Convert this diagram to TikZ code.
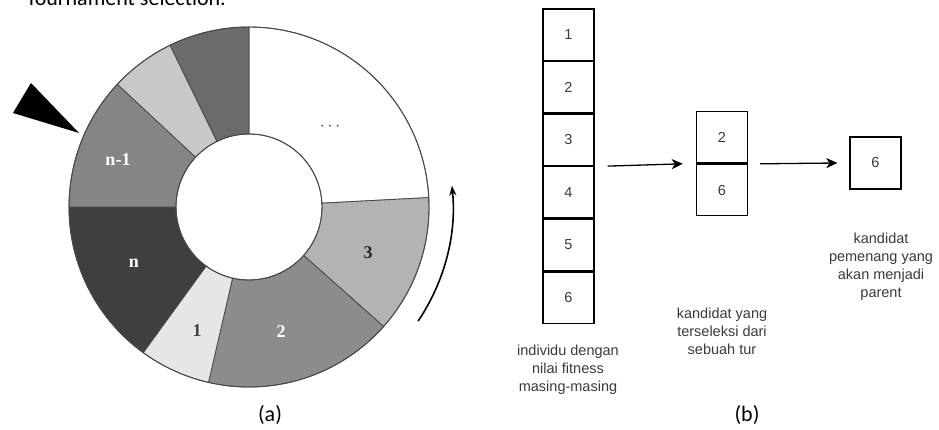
\documentclass[tikz,border=0pt]{standalone}
\usepackage{fontspec}
\setmainfont{Liberation Sans}
\newfontfamily\calib{Carlito}
\newfontfamily\serifring{Liberation Serif}
\usetikzlibrary{arrows.meta,positioning}
\definecolor{segA}{HTML}{FFFFFF}
\definecolor{segB}{HTML}{B3B3B3}
\definecolor{segC}{HTML}{8C8C8C}
\definecolor{segD}{HTML}{E6E6E6}
\definecolor{segE}{HTML}{3F3F3F}
\definecolor{segF}{HTML}{858585}
\definecolor{segG}{HTML}{C8C8C8}
\definecolor{segH}{HTML}{6B6B6B}
\definecolor{ringline}{HTML}{474747}
\definecolor{txtgray}{HTML}{3A3A3A}
\tikzset{
  cell/.style={draw=black, line width=1.3pt, minimum width=51pt, minimum height=51.3pt, inner sep=0pt, text=txtgray, font=\fontsize{14.5}{17}\selectfont},
  flow/.style={-{Stealth[length=11pt,width=10pt,inset=3pt]}, line width=1.3pt},
  caption/.style={align=center, font=\fontsize{14.5}{18}\selectfont, text=txtgray, inner sep=0pt},
  sublabel/.style={font=\calib\fontsize{22}{24}\selectfont, inner sep=0pt},
  ringlabel/.style={font=\serifring\fontsize{18}{20}\selectfont\bfseries, inner sep=0pt},
}
\begin{document}
\begin{tikzpicture}[x=1pt,y=-1pt]
\useasboundingbox (0,0) rectangle (939,430);
% clipped heading (only the bottoms of its letters are visible)
\begin{scope}
  \clip (0,0) rectangle (939,7);
  \node[anchor=base east, font=\calib\fontsize{22}{24}\selectfont, inner sep=0pt] (head) at (226,6) {Tournament selection.};
\end{scope}
% ---------- (a) roulette ring ----------
\begin{scope}[shift={(249,207)}, x=1pt, y=1pt]
  \def\R{180}\def\r{73}
  \foreach \a/\b/\c in {3/90/segA, -41.6/3/segB, -103/-41.6/segC, -126/-103/segD, 180/234/segE, 137/180/segF, 116/137/segG, 90/116/segH}{
    \filldraw[fill=\c, draw=ringline, line width=0.8pt]
      (\a:\R) arc[start angle=\a, end angle=\b, radius=\R] -- (\b:\r)
      arc[start angle=\b, end angle=\a, radius=\r] -- cycle;
  }
  \draw[ringline, line width=0.9pt] (0,0) circle[radius=\R];
  \draw[ringline, line width=0.9pt] (0,0) circle[radius=\r];
  \node[ringlabel, text=black!75] (ldots) at (81,80) {$\cdots$};
  \node[ringlabel, text=black!85] (l3) at (119,-46) {3};
  \node[ringlabel, text=white] (l2) at (32,-125) {2};
  \node[ringlabel, text=black!75] (l1) at (-52,-124) {1};
  \node[ringlabel, text=white] (ln) at (-115,-56) {n};
  \node[ringlabel, text=white] (ln1) at (-131,47) {n-1};
  \coordinate (arcstart) at (-34:204);
  \draw[-{Stealth[length=10pt,width=7pt]}, line width=1.6pt] (arcstart) arc[start angle=-34, end angle=6, radius=204];
\end{scope}
\fill[black] (13,113) -- (31,83) -- (79,133) -- cycle;
\node[sublabel] (la) at (270,415) {(a)};
% ---------- (b) tournament ----------
\node[cell] (c1) at (568.5,34.6) {1};
\node[cell, below=0pt of c1] (c2) {2};
\node[cell, below=0pt of c2] (c3) {3};
\node[cell, below=0pt of c3] (c4) {4};
\node[cell, below=0pt of c4] (c5) {5};
\node[cell, below=0pt of c5] (c6) {6};
\node[cell] (t1) at (722,137.5) {2};
\node[cell, below=0pt of t1] (t2) {6};
\node[cell, minimum height=52pt] (w) at (875.5,163) {6};
\draw[flow] ([xshift=13pt]c3.south east) -- ([xshift=-13pt]t1.south west);
\draw[flow] ([xshift=12pt]t1.south east) -- ([xshift=-12pt]w.west);
\node[caption] (capA) at (568,370) {individu dengan\\nilai fitness\\masing-masing};
\node[caption] (capB) at (722,331) {kandidat yang\\terseleksi dari\\sebuah tur};
\node[caption] (capC) at (881,266.5) {kandidat\\pemenang yang\\akan menjadi\\parent};
\node[sublabel] (lb) at (747,415) {(b)};
\end{tikzpicture}
\end{document}
